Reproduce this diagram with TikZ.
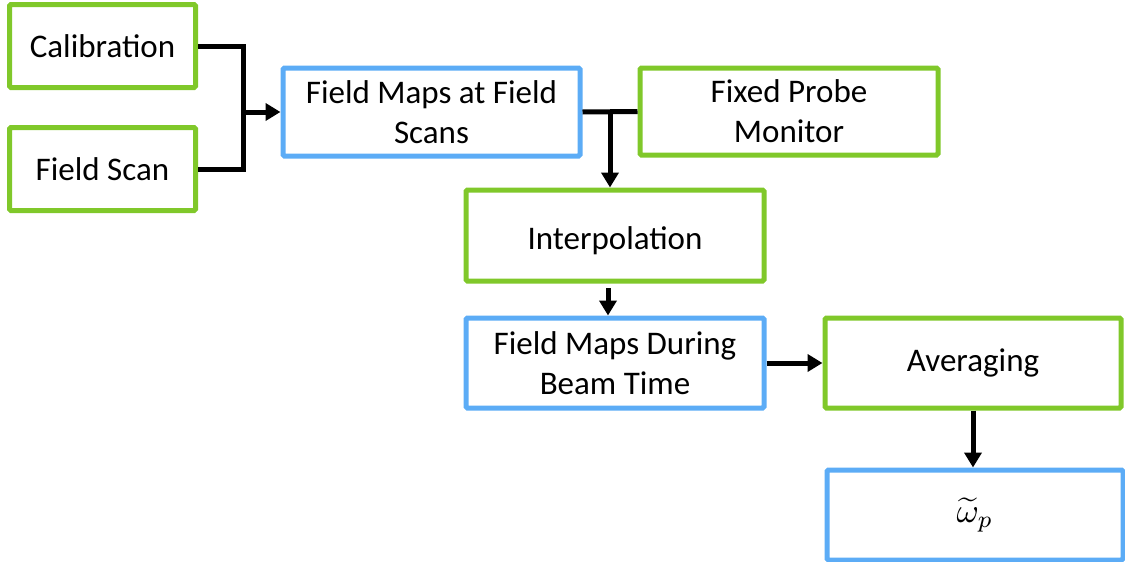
\documentclass[tikz,border=0pt]{standalone}
\usepackage{fontspec}
\setmainfont{Carlito}
\usetikzlibrary{arrows.meta}
\definecolor{boxgreen}{RGB}{128,200,42}
\definecolor{boxblue}{RGB}{92,172,246}
\tikzset{
  base/.style={draw, line width=5pt, rounded corners=1.5pt, align=center,
    inner sep=0pt, font=\fontsize{33}{40}\selectfont, text=black},
  gbox/.style={base, draw=boxgreen},
  bbox/.style={base, draw=boxblue},
  conn/.style={line width=5pt, draw=black},
  arr/.style={conn, -{Triangle[width=17pt,length=15pt]}}
}
\begin{document}
\begin{tikzpicture}[x=1pt,y=-1pt]
  \useasboundingbox (0,0) rectangle (1125,562);
  % boxes (outer size minus line width)
  \node[gbox, minimum width=186pt, minimum height=83pt] (cal) at (102.5,46) {Calibration};
  \node[gbox, minimum width=186pt, minimum height=83pt] (scan) at (102.5,169) {Field Scan};
  \node[bbox, minimum width=297pt, minimum height=88pt] (fmfs) at (431.5,112) {Field Maps at Field\\Scans};
  \node[gbox, minimum width=298pt, minimum height=87pt] (fpm) at (789,111.5) {Fixed Probe\\Monitor};
  \node[gbox, minimum width=298pt, minimum height=91pt] (interp) at (615,235.5) {\rule{0pt}{34pt}Interpolation};
  \node[bbox, minimum width=298pt, minimum height=90pt] (fmdbt) at (615,363) {Field Maps During\\Beam Time};
  \node[gbox, minimum width=296pt, minimum height=90pt] (avg) at (973,363) {Averaging};
  \node[bbox, minimum width=296pt, minimum height=90pt] (omega) at (975,515)
    {\scalebox{3.4}{\fontsize{10}{12}\selectfont$\widetilde{\omega}_{p}$}};
  % bracket joining the two inputs
  \draw[conn] (cal.east) -- ++(45,0) |- (scan.east);
  \coordinate (j) at (243,112);
  \draw[arr] (j) -- (fmfs.west);
  % T junction between the field maps and the fixed probe monitor
  \draw[conn] (fmfs.east) -- (fpm.west);
  \coordinate (t) at (610,111.5);
  \draw[arr] (t) -- (t |- interp.north);
  % downstream flow
  \coordinate (s) at (608,288);
  \draw[arr] (s) -- (s |- fmdbt.north);
  \draw[arr] (fmdbt.east) -- (avg.west);
  \draw[arr] (avg.south) -- (avg.south |- omega.north);
\end{tikzpicture}
\end{document}
